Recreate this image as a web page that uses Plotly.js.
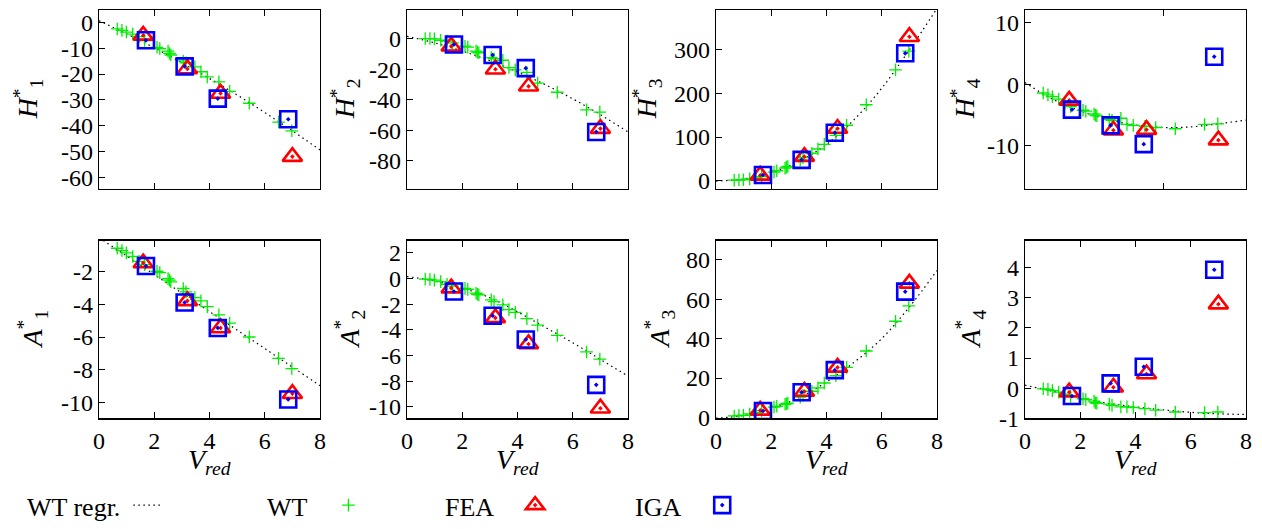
<!DOCTYPE html>
<html><head><meta charset="utf-8">
<script src="https://cdn.plot.ly/plotly-3.0.1.min.js"></script>
<style>html,body{margin:0;padding:0;background:#fff}#chart{width:1262px;height:529px}</style>
</head><body><div id="chart"></div>
<script>
// ---- data ----
const wtX = [0.66, 0.83, 0.99, 1.22, 1.45, 1.65, 2.1, 2.2, 2.5, 2.55, 2.6, 3.05, 3.15, 3.47, 3.69, 3.92, 4.34, 4.73, 5.44, 6.5, 6.98];
const feaX = [1.6, 3.2, 4.4, 7.0];
const igaX = [1.7, 3.1, 4.3, 6.85];
const regrX = [0, 1, 2, 3, 4, 5, 6, 7, 8];

const H1_wt = [-2.5, -3.05, -3.7, -4.5, -5.5, -7.0, -9.6, -10.1, -11.1, -12.0, -12.6, -14.9, -15.6, -17.2, -19.1, -21.1, -23, -26.7, -31.3, -38.6, -42];
const H2_wt = [0.2, 0.2, 0.0, -0.9, -1.5, -2.6, -4.8, -5.4, -8.0, -8.7, -9.1, -12.3, -13, -14, -18.8, -20.3, -22, -29, -35, -46.5, -48];
const H3_wt = [1, 1.5, 2, 4, 6, 9, 19.7, 22.7, 28.8, 31, 32.6, 47.6, 53, 62.8, 72.6, 83.2, 104, 127, 174, 254, 297];
const H4_wt = [-1.4, -1.7, -2.0, -2.4, -3.0, -3.6, -4.2, -4.35, -4.8, -5.0, -5.1, -5.7, -5.85, -5.5, -6.5, -6.65, -6.8, -7.0, -7.2, -6.5, -6.4];
const A1_wt = [-0.6, -0.74, -0.88, -1.1, -1.4, -1.6, -2.0, -2.08, -2.45, -2.54, -2.64, -3.05, -3.25, -3.6, -3.8, -4.15, -4.65, -5.15, -6.0, -7.3, -7.92];
const A2_wt = [-0.05, -0.08, -0.13, -0.25, -0.45, -0.6, -0.77, -0.85, -1.15, -1.23, -1.28, -1.67, -1.8, -2.05, -2.43, -2.64, -3.13, -3.64, -4.43, -5.72, -6.28];
const A3_wt = [0.8, 1.0, 1.15, 1.8, 2.5, 3.5, 5.3, 5.7, 6.7, 7.0, 7.3, 10.3, 11.2, 13.3, 15, 17.5, 21.2, 25.4, 33.7, 48.8, 56.6];
const A4_wt = [-0.02, -0.04, -0.08, -0.13, -0.2, -0.27, -0.35, -0.38, -0.43, -0.48, -0.5, -0.53, -0.57, -0.62, -0.62, -0.64, -0.68, -0.73, -0.79, -0.81, -0.79];

const H1_fea = [-5, -18, -27.5, -52];    const H1_iga = [-6.9, -17, -29.5, -37.5];
const H2_fea = [-4.8, -19.9, -31.1, -58.8]; const H2_iga = [-3.7, -10.6, -19.2, -61];
const H3_fea = [12, 55, 119.5, 330];    const H3_iga = [13, 47.6, 109.7, 292];
const H4_fea = [-2.6, -7.45, -7.35, -9.05]; const H4_iga = [-4.1, -6.65, -9.7, 4.5];
const A1_fea = [-1.5, -3.8, -5.45, -9.45]; const A1_iga = [-1.68, -3.9, -5.45, -9.8];
const A2_fea = [-0.75, -3.07, -5.1, -10.1]; const A2_iga = [-1.02, -2.9, -4.75, -8.28];
const A3_fea = [3.6, 13.2, 25.4, 68];   const A3_iga = [3.3, 12.8, 24, 63.8];
const A4_fea = [-0.13, 0.03, 0.47, 2.79]; const A4_iga = [-0.26, 0.16, 0.71, 3.93];

const H1_regr = [0.7, -4.4, -9.8, -15.6, -21.7, -28.1, -34.9, -42, -49.4];
const H2_regr = [1.7, -2.6, -8.0, -14.3, -21.7, -30, -39.3, -49.7, -61];
const H3_regr = [-1, 4, 18, 44, 83, 140, 212, 300, 395];
const H4_regr = [0.3, -2.4, -4.3, -5.7, -6.6, -7.0, -6.9, -6.4, -5.8];
const A1_regr = [0.05, -1.07, -2.2, -3.33, -4.45, -5.58, -6.7, -7.83, -8.96];
const A2_regr = [0.15, -0.2, -0.75, -1.5, -2.6, -3.8, -5.0, -6.3, -7.6];
const A3_regr = [-0.3, 1, 4.5, 10, 18, 28, 40, 56, 74.5];
const A4_regr = [0.1, -0.1, -0.32, -0.5, -0.62, -0.72, -0.8, -0.85, -0.87];

const H1_ticks = [0, -10, -20, -30, -40, -50, -60];
const H2_ticks = [0, -20, -40, -60, -80];
const H3_ticks = [0, 100, 200, 300];
const H4_ticks = [10, 0, -10];
const A1_ticks = [-2, -4, -6, -8, -10];
const A2_ticks = [2, 0, -2, -4, -6, -8, -10];
const A3_ticks = [0, 20, 40, 60, 80];
const A4_ticks = [4, 3, 2, 1, 0, -1];
const xTicks = [0, 2, 4, 6, 8];
const xTicksH4 = [0, 5];

const yLabels = ['H', 'H', 'H', 'H', 'A', 'A', 'A', 'A'];
const yIdx = ['1', '2', '3', '4', '1', '2', '3', '4'];
const legendNames = ['WT regr.', 'WT\u00a0\u00a0', 'FEA\u00a0\u00a0', 'IGA\u00a0\u00a0'];

// ---- layout config ----
const W = 1262, Hh = 529;
const panels = [
  {wt: H1_wt, fea: H1_fea, iga: H1_iga, regr: H1_regr, ticks: H1_ticks, range: [-64.5, 4.9], col: 0, row: 0, tx: 28, xt: xTicks},
  {wt: H2_wt, fea: H2_fea, iga: H2_iga, regr: H2_regr, ticks: H2_ticks, range: [-98.3, 19], col: 1, row: 0, tx: 345, xt: xTicks},
  {wt: H3_wt, fea: H3_fea, iga: H3_iga, regr: H3_regr, ticks: H3_ticks, range: [-18.8, 391.6], col: 2, row: 0, tx: 647, xt: xTicks},
  {wt: H4_wt, fea: H4_fea, iga: H4_iga, regr: H4_regr, ticks: H4_ticks, range: [-16.96, 12.1], col: 3, row: 0, tx: 965, xt: xTicksH4},
  {wt: A1_wt, fea: A1_fea, iga: A1_iga, regr: A1_regr, ticks: A1_ticks, range: [-10.96, -0.13], col: 0, row: 1, tx: 33, xt: xTicks},
  {wt: A2_wt, fea: A2_fea, iga: A2_iga, regr: A2_regr, ticks: A2_ticks, range: [-10.9, 2.95], col: 1, row: 1, tx: 350, xt: xTicks},
  {wt: A3_wt, fea: A3_fea, iga: A3_iga, regr: A3_regr, ticks: A3_ticks, range: [-0.5, 89.7], col: 2, row: 1, tx: 660, xt: xTicks},
  {wt: A4_wt, fea: A4_fea, iga: A4_iga, regr: A4_regr, ticks: A4_ticks, range: [-1.005, 4.9], col: 3, row: 1, tx: 971, xt: xTicks}
];
const xPx = [[99, 320], [407, 628], [716, 937], [1025, 1246]];
const yPx = [[10, 191], [243.3, 423.3]];
const FONT = '"Liberation Serif", "Times New Roman", serif';

const traces = [];
const layout = {
  width: W, height: Hh, margin: {l: 0, r: 0, t: 0, b: 0},
  paper_bgcolor: '#fff', plot_bgcolor: '#fff',
  font: {family: FONT, size: 24, color: '#000'},
  showlegend: true, annotations: []
};

panels.forEach((p, i) => {
  const n = i + 1;
  const xa = 'x' + (n === 1 ? '' : n), ya = 'y' + (n === 1 ? '' : n);
  const common = {xaxis: xa, yaxis: ya, hoverinfo: 'skip'};
  const first = i === 0;
  traces.push(Object.assign({type: 'scatter', mode: 'lines', x: regrX, y: p.regr, name: ' ',
    line: {color: '#000', width: 1.2, dash: '1.5px,3.5px', shape: 'spline'}, showlegend: first, legend: 'legend'}, common));
  traces.push(Object.assign({type: 'scatter', mode: 'markers', x: wtX, y: p.wt, name: ' ',
    marker: {symbol: 'cross-thin-open', size: 9, line: {color: '#00ee00', width: 1.3}, color: '#00ee00'}, showlegend: first, legend: 'legend2'}, common));
  traces.push(Object.assign({type: 'scatter', mode: 'markers', x: feaX, y: p.fea, name: ' ',
    marker: {symbol: 'triangle-up-open-dot', size: 17, color: '#ff0000', line: {color: '#ff0000', width: 2.6}}, showlegend: first, legend: 'legend3'}, common));
  traces.push(Object.assign({type: 'scatter', mode: 'markers', x: igaX, y: p.iga, name: ' ',
    marker: {symbol: 'square-open-dot', size: 16, color: '#0000ff', line: {color: '#0000ff', width: 2.6}}, showlegend: first, legend: 'legend4'}, common));

  const xd = xPx[p.col], yd = yPx[p.row];
  const bottom = p.row === 1;
  layout['xaxis' + (n === 1 ? '' : n)] = {
    domain: [xd[0] / W, xd[1] / W], range: [0, 8], anchor: ya,
    showline: true, linecolor: '#000', linewidth: 1.3, mirror: 'allticks',
    ticks: 'inside', ticklen: 6, tickwidth: 1, tickcolor: '#000',
    tickmode: 'array', tickvals: p.xt, ticktext: p.xt.map(String),
    showticklabels: bottom, showgrid: false, zeroline: false,
    tickfont: {family: FONT, size: 24, color: '#000'}, fixedrange: true
  };
  layout['yaxis' + (n === 1 ? '' : n)] = {
    domain: [1 - yd[1] / Hh, 1 - yd[0] / Hh], range: p.range, anchor: xa,
    showline: true, linecolor: '#000', linewidth: 1.3, mirror: true,
    ticks: 'inside', ticklen: 6, tickwidth: 1, tickcolor: '#000',
    tickmode: 'array', tickvals: p.ticks, ticktext: p.ticks.map(String),
    showgrid: false, zeroline: false,
    tickfont: {family: FONT, size: 24, color: '#000'}, fixedrange: true
  };
  layout.annotations.push({
    xref: 'paper', yref: 'paper', x: p.tx / W, y: 1 - (yd[0] + yd[1]) / 2 / Hh,
    xanchor: 'center', yanchor: 'middle', textangle: -90, showarrow: false,
    text: '<i>' + yLabels[i] + '</i><sup>*</sup><sub>' + yIdx[i] + '</sub>',
    font: {family: FONT, size: 28, color: '#000'}
  });
  if (bottom) {
    layout.annotations.push({
      xref: 'paper', yref: 'paper', x: (xd[0] + xd[1]) / 2 / W, y: 1 - 447 / Hh,
      xanchor: 'center', yanchor: 'top', showarrow: false,
      text: '<i>V<sub>red</sub></i>', font: {family: FONT, size: 28, color: '#000'}
    });
  }
});

const legX = [25, 265, 443, 633];
['legend', 'legend2', 'legend3', 'legend4'].forEach((k, j) => {
  layout[k] = {
    x: legX[j] / W, y: 1 - 511 / Hh, xanchor: 'left', yanchor: 'middle',
    orientation: 'h', bgcolor: 'rgba(0,0,0,0)', borderwidth: 0,
    font: {family: FONT, size: 26, color: '#000'},
    title: {text: legendNames[j], side: 'left', font: {family: FONT, size: 26, color: '#000'}},
    itemclick: false, itemdoubleclick: false
  };
});

Plotly.newPlot('chart', traces, layout, {staticPlot: true, displayModeBar: false});
</script>
</body></html>
